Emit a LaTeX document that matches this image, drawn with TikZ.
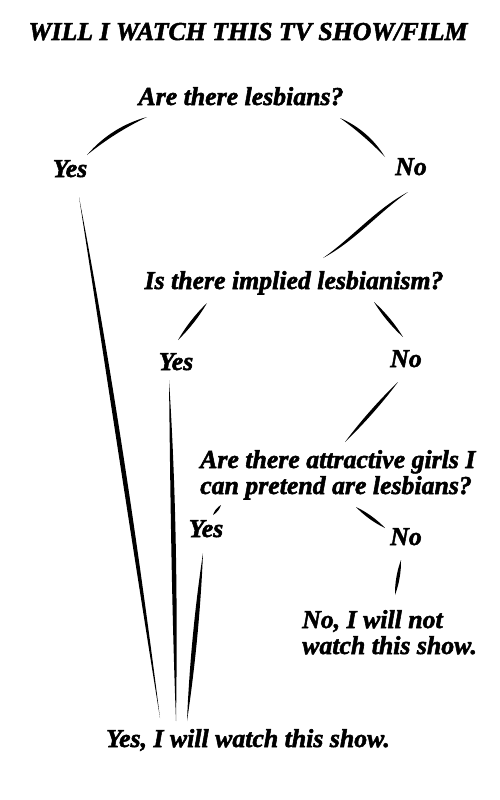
\documentclass[tikz,border=0pt]{standalone}
\usepackage{fontspec}
\setmainfont{Liberation Serif}
\newfontfamily\bifont{Liberation Serif Bold Italic}[FakeBold=2]
\usetikzlibrary{calc}
% tapered brush stroke: [half width]{A}{B}{bend1}{bend2}
\newcommand\bstroke[5][2.2pt]{%
  \fill (#2) .. controls ($(#2)!0.33!(#3)!#4+#1!90:(#3)$) and ($(#2)!0.67!(#3)!#5+#1!90:(#3)$) .. (#3)
        .. controls ($(#2)!0.67!(#3)!#5-#1!90:(#3)$) and ($(#2)!0.33!(#3)!#4-#1!90:(#3)$) .. (#2) -- cycle;}
\begin{document}
\begin{tikzpicture}[x=1pt,y=-1pt,
  txt/.style={font=\bifont\fontsize{25.8}{26}\selectfont, inner sep=0pt, anchor=base},
  txtl/.style={txt, anchor=base west, align=left}]
\path[use as bounding box, fill=white] (0,0) rectangle (500,800);
% texts
\node[txt] (title) at (248,40) {WILL I WATCH THIS TV SHOW/FILM};
\node[txt] (q1) at (241,105) {Are there lesbians?};
\node[txt] (y1) at (70,177) {Yes};
\node[txt] (n1) at (411,175) {No};
\node[txt] (q2) at (294,289) {Is there implied lesbianism?};
\node[txt] (y2) at (176,370) {Yes};
\node[txt] (n2) at (406,367) {No};
\node[txtl] (q3) at (200,494) {Are there attractive girls I\\can pretend are lesbians?};
\node[txt] (y3) at (206,537) {Yes};
\node[txt] (n3) at (406,545) {No};
\node[txtl] (nn) at (302,654) {No, I will not\\watch this show.};
\node[txt] (yy) at (248,747) {Yes, I will watch this show.};
% connector end points
\coordinate (a1) at (87,155);  \coordinate (b1) at (147,117);
\coordinate (a2) at (340,118); \coordinate (b2) at (385,157);
\coordinate (a3) at (408,192); \coordinate (b3) at (323,258);
\coordinate (a4) at (79,197);  \coordinate (b4) at (160,718);
\coordinate (a5) at (207,303); \coordinate (b5) at (178,340);
\coordinate (a6) at (374,302); \coordinate (b6) at (403,337);
\coordinate (a7) at (169,380); \coordinate (b7) at (176,721);
\coordinate (a8) at (398,382); \coordinate (b8) at (345,442);
\coordinate (a9) at (221,505); \coordinate (b9) at (213,515);
\coordinate (a10) at (356,507); \coordinate (b10) at (385,528);
\coordinate (a11) at (203,553); \coordinate (b11) at (187,721);
\coordinate (a12) at (401,560); \coordinate (b12) at (395,595);
% strokes
\bstroke{a1}{b1}{5pt}{5pt}
\bstroke{a2}{b2}{4pt}{4pt}
\bstroke{a3}{b3}{-4pt}{4pt}
\bstroke[3pt]{a4}{b4}{3pt}{2pt}
\bstroke{a5}{b5}{0pt}{0pt}
\bstroke{a6}{b6}{0pt}{0pt}
\bstroke[3pt]{a7}{b7}{2pt}{1pt}
\bstroke{a8}{b8}{0pt}{0pt}
\bstroke[1.6pt]{a9}{b9}{0pt}{0pt}
\bstroke{a10}{b10}{0pt}{0pt}
\bstroke[3pt]{a11}{b11}{0pt}{0pt}
\bstroke{a12}{b12}{0pt}{0pt}
\end{tikzpicture}
\end{document}
